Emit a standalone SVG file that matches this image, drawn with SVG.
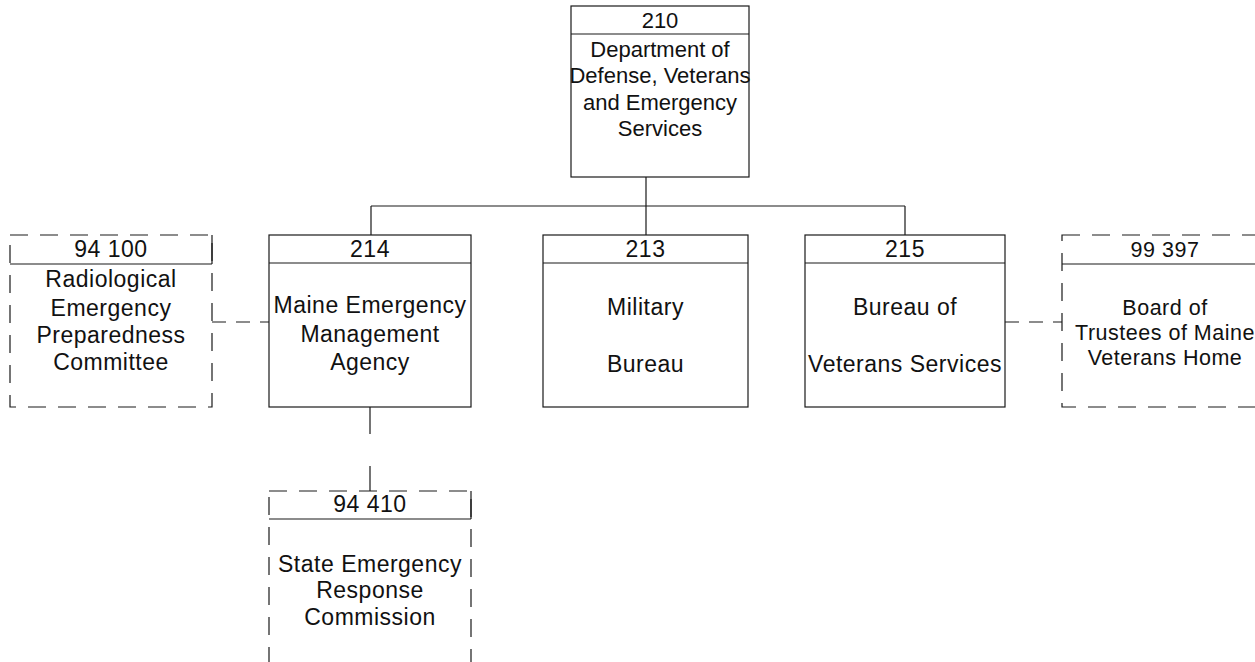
<svg xmlns="http://www.w3.org/2000/svg" width="1255" height="662" viewBox="0 0 1255 662">
<style>
  .box { fill: #fff; stroke: #1a1a1a; stroke-width: 1.2; }
  .dbox { fill: #fff; stroke: #1a1a1a; stroke-width: 1.2; stroke-dasharray: 18 12; }
  .conn { fill: none; stroke: #1a1a1a; stroke-width: 1.2; }
  .dconn { fill: none; stroke: #1a1a1a; stroke-width: 1.2; stroke-dasharray: 14 10; }
  text { font-family: "Liberation Sans", Arial, sans-serif; font-size: 23px; fill: #111; text-anchor: middle; letter-spacing: 0.5px; }
  .top text { font-size: 22px; letter-spacing: 0; }
  .tight text { font-size: 21.5px; }
</style>
<rect width="1255" height="662" fill="#fff"/>
<g id="connectors">
  <path class="conn" d="M646 177 V206 M371 206 H905 M371 206 V235 M646 206 V235 M905 206 V235"/>
  <path class="dconn" d="M212 322 H269"/>
  <path class="dconn" d="M1005 322 H1062"/>
  <path class="conn" d="M370 407 V434 M370 466 V491"/>
</g>
<g id="n210" class="top">
  <rect class="box" x="571" y="6" width="178" height="171"/>
  <line class="box" x1="571" y1="34" x2="749" y2="34"/>
  <text x="660" y="28">210</text>
  <text x="660" y="57">Department of</text>
  <text x="660" y="83">Defense, Veterans</text>
  <text x="660" y="110">and Emergency</text>
  <text x="660" y="136">Services</text>
</g>
<g id="n214">
  <rect class="box" x="269" y="235" width="202" height="172"/>
  <line class="box" x1="269" y1="263" x2="471" y2="263"/>
  <text x="370" y="257">214</text>
  <text x="370" y="313">Maine Emergency</text>
  <text x="370" y="342">Management</text>
  <text x="370" y="370">Agency</text>
</g>
<g id="n213">
  <rect class="box" x="543" y="235" width="205" height="172"/>
  <line class="box" x1="543" y1="263" x2="748" y2="263"/>
  <text x="645.5" y="257">213</text>
  <text x="645.5" y="315">Military</text>
  <text x="645.5" y="372">Bureau</text>
</g>
<g id="n215">
  <rect class="box" x="805" y="235" width="200" height="172"/>
  <line class="box" x1="805" y1="263" x2="1005" y2="263"/>
  <text x="905" y="257">215</text>
  <text x="905" y="315">Bureau of</text>
  <text x="905" y="372">Veterans Services</text>
</g>
<g id="n94100">
  <rect class="dbox" x="10" y="235" width="202" height="172"/>
  <line class="box" x1="10" y1="264" x2="212" y2="264"/>
  <line class="box" x1="212" y1="235" x2="212" y2="264"/>
  <text x="111" y="257">94 100</text>
  <text x="111" y="287">Radiological</text>
  <text x="111" y="316">Emergency</text>
  <text x="111" y="343">Preparedness</text>
  <text x="111" y="370">Committee</text>
</g>
<g id="n99397" class="tight">
  <rect class="dbox" x="1062" y="235" width="206" height="172"/>
  <line class="box" x1="1062" y1="264" x2="1268" y2="264"/>
  <text x="1165" y="257">99 397</text>
  <text x="1165" y="315">Board of</text>
  <text x="1165" y="340">Trustees of Maine</text>
  <text x="1165" y="365">Veterans Home</text>
</g>
<g id="n94410">
  <rect class="dbox" x="269" y="491" width="202" height="200"/>
  <line class="box" x1="269" y1="519" x2="471" y2="519"/>
  <line class="box" x1="471" y1="491" x2="471" y2="519"/>
  <text x="370" y="512">94 410</text>
  <text x="370" y="572">State Emergency</text>
  <text x="370" y="598">Response</text>
  <text x="370" y="625">Commission</text>
</g>
</svg>
